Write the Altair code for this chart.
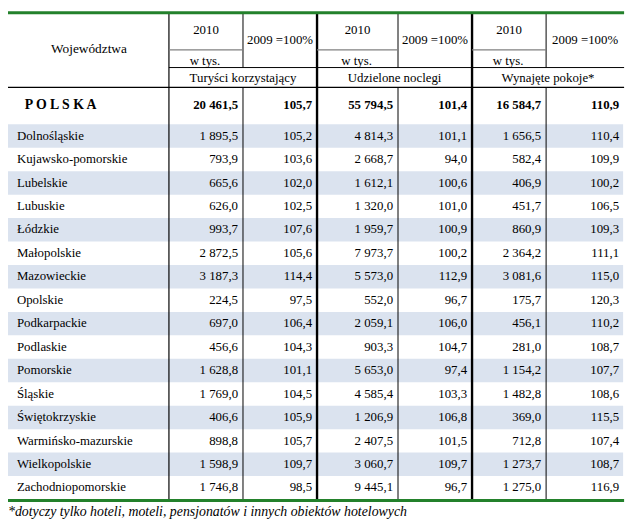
import altair as alt
import pandas as pd

# ---------------- data ----------------
regions = ["Dolnośląskie", "Kujawsko-pomorskie", "Lubelskie", "Lubuskie", "Łódzkie",
           "Małopolskie", "Mazowieckie", "Opolskie", "Podkarpackie", "Podlaskie",
           "Pomorskie", "Śląskie", "Świętokrzyskie", "Warmińsko-mazurskie",
           "Wielkopolskie", "Zachodniopomorskie"]
tourists = [1895.5, 793.9, 665.6, 626.0, 993.7, 2872.5, 3187.3, 224.5, 697.0, 456.6,
            1628.8, 1769.0, 406.6, 898.8, 1598.9, 1746.8]
tourists_idx = [105.2, 103.6, 102.0, 102.5, 107.6, 105.6, 114.4, 97.5, 106.4, 104.3,
                101.1, 104.5, 105.9, 105.7, 109.7, 98.5]
nights = [4814.3, 2668.7, 1612.1, 1320.0, 1959.7, 7973.7, 5573.0, 552.0, 2059.1, 903.3,
          5653.0, 4585.4, 1206.9, 2407.5, 3060.7, 9445.1]
nights_idx = [101.1, 94.0, 100.6, 101.0, 100.9, 100.2, 112.9, 96.7, 106.0, 104.7,
              97.4, 103.3, 106.8, 101.5, 109.7, 96.7]
rooms = [1656.5, 582.4, 406.9, 451.7, 860.9, 2364.2, 3081.6, 175.7, 456.1, 281.0,
         1154.2, 1482.8, 369.0, 712.8, 1273.7, 1275.0]
rooms_idx = [110.4, 109.9, 100.2, 106.5, 109.3, 111.1, 115.0, 120.3, 110.2, 108.7,
             107.7, 108.6, 115.5, 107.4, 108.7, 116.9]
poland = [20461.5, 105.7, 55794.5, 101.4, 16584.7, 110.9]
groups = ["Turyści korzystający", "Udzielone noclegi", "Wynajęte pokoje*"]
header_year = "2010"
header_index = "2009 =100%"
header_unit = "w tys."
row_header = "Województwa"
country = "P O L S K A"
footnote = "*dotyczy tylko hoteli, moteli, pensjonatów i innych obiektów hotelowych"

# ---------------- layout ----------------
FONT = "Liberation Serif"
FS = 13
edges = [8, 171, 246, 321, 403, 478, 553, 632]
row_top0, row_h = 122.5, 23.75
GREEN = "#23812b"
SHADE = "#dbe3ef"


def fmt(v):
    return f"{v:,.1f}".replace(",", " ").replace(".", ",")


def row_center(i):
    return row_top0 + i * row_h + row_h / 2 - 0.3


series = [tourists, tourists_idx, nights, nights_idx, rooms, rooms_idx]

xs = alt.Scale(domain=[8, 640], nice=False, zero=False)
ys = alt.Scale(domain=[8, 524], nice=False, zero=False, reverse=True)

# shading
shade = pd.DataFrame([
    {"x": 8, "x2": 631, "y": row_top0 + i * row_h, "y2": row_top0 + (i + 1) * row_h}
    for i in range(len(regions)) if i % 2 == 0
])
shade_layer = alt.Chart(shade).mark_rect(color=SHADE).encode(
    x=alt.X("x:Q", scale=xs, axis=None), x2="x2:Q",
    y=alt.Y("y:Q", scale=ys, axis=None), y2="y2:Q")

# rules
bottom = row_top0 + len(regions) * row_h
lines = []
for xv, full, w in [(171, True, 1.2), (246, False, 1), (321, True, 2.4),
                    (403, False, 1), (478, True, 2.4), (553, False, 1)]:
    if full:
        lines.append({"x": xv, "x2": xv, "y": 10, "y2": bottom, "c": "#000000", "w": w})
    else:
        lines.append({"x": xv, "x2": xv, "y": 10, "y2": 65, "c": "#000000", "w": w})
        lines.append({"x": xv, "x2": xv, "y": 85, "y2": bottom, "c": "#000000", "w": w})
for a, b in [(171, 246), (321, 403), (478, 553)]:
    lines.append({"x": a, "x2": b, "y": 47, "y2": 47, "c": "#808080", "w": 1.3})
lines.append({"x": 171, "x2": 632, "y": 65, "y2": 65, "c": "#000000", "w": 1})
lines.append({"x": 8, "x2": 632, "y": 85, "y2": 85, "c": "#000000", "w": 1.2})
lines.append({"x": 8, "x2": 632, "y": 9.5, "y2": 9.5, "c": GREEN, "w": 3})
lines.append({"x": 8, "x2": 632, "y": bottom + 1, "y2": bottom + 1, "c": GREEN, "w": 3})
rules = pd.DataFrame(lines)
rule_layer = alt.Chart(rules).mark_rule().encode(
    x=alt.X("x:Q", scale=xs, axis=None), x2="x2:Q",
    y=alt.Y("y:Q", scale=ys, axis=None), y2="y2:Q",
    color=alt.Color("c:N", scale=None), size=alt.Size("w:Q", scale=None))


def text_layer(rows, align, weight="normal", style="normal", size=FS):
    df = pd.DataFrame(rows)
    return alt.Chart(df).mark_text(align=align, baseline="middle", font=FONT,
                                   fontSize=size, fontWeight=weight, fontStyle=style,
                                   color="#000000").encode(
        x=alt.X("x:Q", scale=xs, axis=None),
        y=alt.Y("y:Q", scale=ys, axis=None),
        text="t:N")


# region names
names = [{"x": 17, "y": row_center(i), "t": r} for i, r in enumerate(regions)]
# values
vals = []
for j, s in enumerate(series):
    for i, v in enumerate(s):
        vals.append({"x": edges[j + 2] - 5, "y": row_center(i), "t": fmt(v)})
# Poland row
pol_vals = [{"x": edges[j + 2] - 5, "y": 103, "t": fmt(v)} for j, v in enumerate(poland)]
pol_name = [{"x": 25, "y": 103, "t": country}]
# headers
heads = []
for g in range(3):
    a, b, c = edges[1 + 2 * g], edges[2 + 2 * g], edges[3 + 2 * g]
    heads.append({"x": (a + b) / 2, "y": 27, "t": header_year})
    heads.append({"x": (a + b) / 2 - 1, "y": 58.5, "t": header_unit})
    heads.append({"x": (b + c) / 2, "y": 37, "t": header_index})
    heads.append({"x": (a + c) / 2, "y": 75.5, "t": groups[g]})
rowhead = [{"x": 90, "y": 46, "t": row_header}]
foot = [{"x": 8, "y": 515, "t": footnote}]

chart = alt.layer(
    shade_layer,
    rule_layer,
    text_layer(names, "left"),
    text_layer(vals, "right"),
    text_layer(pol_vals, "right", weight="bold"),
    text_layer(pol_name, "left", weight="bold", size=14),
    text_layer(heads, "center", size=13),
    text_layer(rowhead, "center", size=13.5),
    text_layer(foot, "left", style="italic", size=14),
).properties(
    width=632, height=516, padding=0, autosize=alt.AutoSizeParams(type="none")
).configure_view(strokeWidth=0)

chart.save("out.html", embed_options={"renderer": "svg", "actions": False})
